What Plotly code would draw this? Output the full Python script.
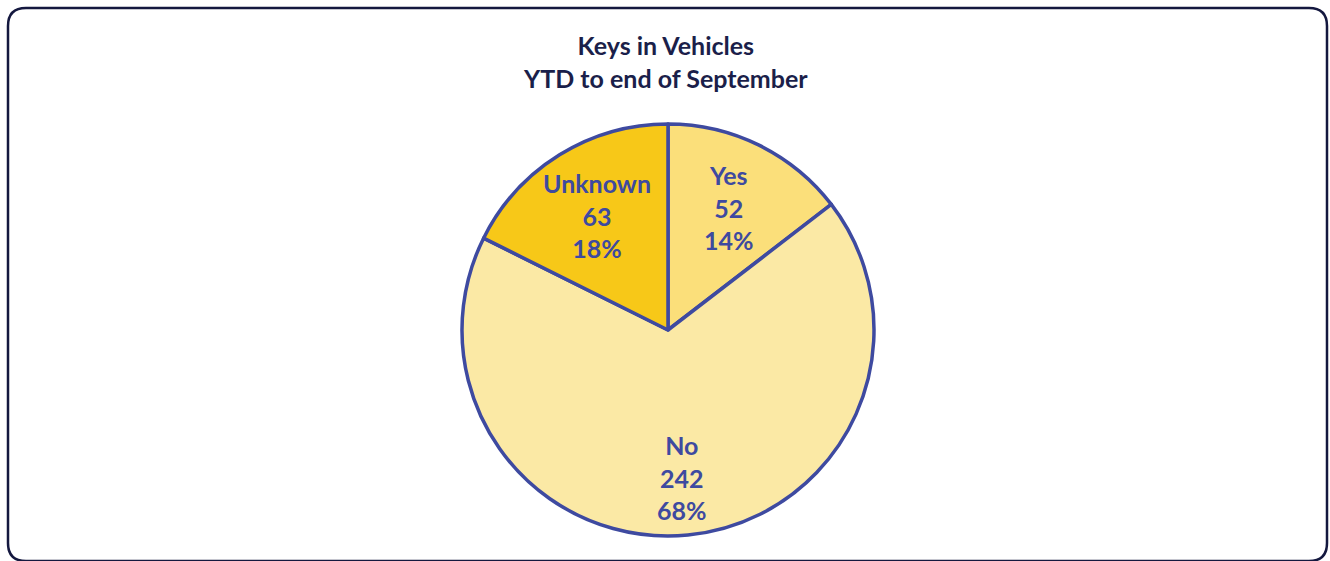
import math
import plotly.graph_objects as go

# Keys in Vehicles, year to date
categories = ["Yes", "No", "Unknown"]
counts = [52, 242, 63]
percent_labels = ["14%", "68%", "18%"]
slice_colors = ["#FBDF7A", "#FBE9A5", "#F7C818"]

W, H = 1330, 561
CX, CY, R = 668, 330, 206          # pie centre and radius in pixels
label_radius = [0.665, 0.72, 0.655]  # label distance from centre, fraction of radius
font_family = "Lato, Open Sans, sans-serif"
text_color = "#3E4AA0"

fig = go.Figure(
    go.Pie(
        labels=categories,
        values=counts,
        sort=False,
        direction="clockwise",
        rotation=0,
        marker=dict(colors=slice_colors, line=dict(color="#3E4AA0", width=3.5)),
        textinfo="none",
        hoverinfo="label+value",
        showlegend=False,
        domain=dict(x=[(CX - R) / W, (CX + R) / W], y=[1 - (CY + R) / H, 1 - (CY - R) / H]),
    )
)

# Data labels placed at the middle angle of each slice
total = sum(counts)
annotations = []
start = 0.0
for name, v, pct, fr in zip(categories, counts, percent_labels, label_radius):
    sweep = v / total * 360.0
    mid = math.radians(start + sweep / 2)
    start += sweep
    x = CX + fr * R * math.sin(mid)
    y = CY - fr * R * math.cos(mid)
    annotations.append(
        dict(
            x=x / W,
            y=1 - y / H,
            xref="paper",
            yref="paper",
            text=f"<b>{name}<br>{v}<br>{pct}</b>",
            showarrow=False,
            xanchor="center",
            yanchor="middle",
            align="center",
            font=dict(family=font_family, size=25, color=text_color),
        )
    )

# Chart title
annotations.append(
    dict(
        x=0.5,
        y=1 - 61 / H,
        xref="paper",
        yref="paper",
        text="<b>Keys in Vehicles<br>YTD to end of September</b>",
        showarrow=False,
        xanchor="center",
        yanchor="middle",
        align="center",
        font=dict(family=font_family, size=25, color="#1B1F4A"),
    )
)

# Rounded frame around the chart area
x0, x1, y0, y1, r = 8, 1327, 8, 561, 18
def px(x):
    return x / W
def py(y):
    return 1 - y / H
frame = (
    f"M {px(x0 + r)},{py(y0)} L {px(x1 - r)},{py(y0)} "
    f"Q {px(x1)},{py(y0)} {px(x1)},{py(y0 + r)} "
    f"L {px(x1)},{py(y1 - r)} Q {px(x1)},{py(y1)} {px(x1 - r)},{py(y1)} "
    f"L {px(x0 + r)},{py(y1)} Q {px(x0)},{py(y1)} {px(x0)},{py(y1 - r)} "
    f"L {px(x0)},{py(y0 + r)} Q {px(x0)},{py(y0)} {px(x0 + r)},{py(y0)} Z"
)

fig.update_layout(
    width=W,
    height=H,
    margin=dict(l=0, r=0, t=0, b=0),
    paper_bgcolor="white",
    plot_bgcolor="white",
    annotations=annotations,
    shapes=[
        dict(
            type="path",
            xref="paper",
            yref="paper",
            path=frame,
            line=dict(color="#14183F", width=2.5),
            fillcolor="rgba(0,0,0,0)",
            layer="above",
        )
    ],
)

fig.write_html("out.html")
